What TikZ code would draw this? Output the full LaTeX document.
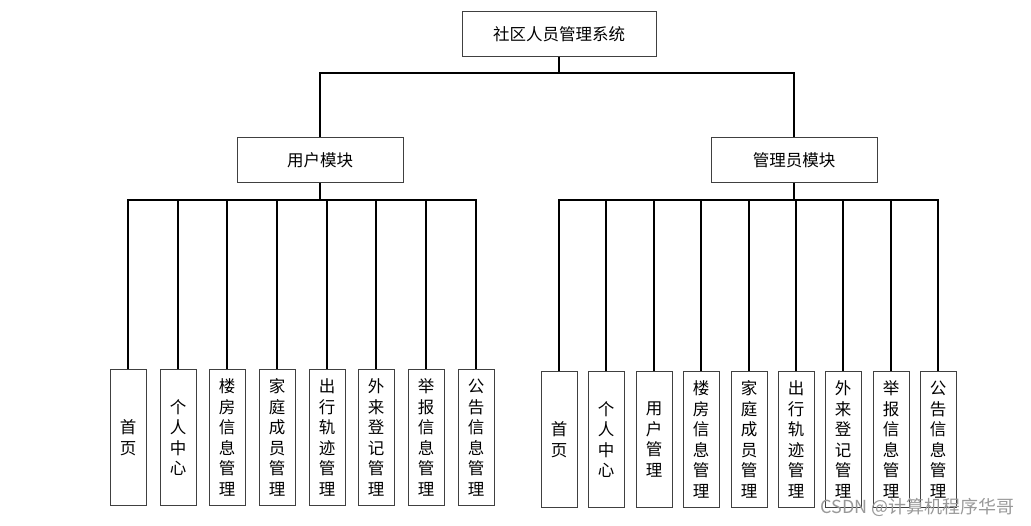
\documentclass[tikz,border=0pt]{standalone}
\usepackage{fontspec}
\newfontfamily\cjk{Noto Sans CJK SC}

\begin{document}
\begin{tikzpicture}[x=1pt, y=-1pt,
  box/.style={draw=black!75, line width=1pt, fill=white, inner sep=0pt,
    font=\cjk\fontsize{16.5}{20.5}\selectfont},
  topbox/.style={box, minimum width=194pt, minimum height=45pt},
  modbox/.style={box, minimum width=166pt, minimum height=45pt},
  leafbox/.style={box, minimum width=36pt, minimum height=135pt, align=center},
  link/.style={line width=1.2pt}]

  % canvas
  \useasboundingbox (0,0) rectangle (1031,526);

  % --- Top level ---
  \node[topbox] (root) at (559,34.5) {社区人员管理系统};

  % --- Module level ---
  \node[modbox] (user)  at (320,160) {用户模块};
  \node[modbox] (admin) at (794,160) {管理员模块};

  \coordinate (rootbar) at (559,73);
  \draw[link] (root.south) -- (rootbar) -| (user.north);
  \draw[link] (rootbar) -| (admin.north);

  % --- User module leaves ---
  \coordinate (userbar) at (320,200);
  \draw[link] (user.south) -- (userbar);
  \foreach \x/\t [count=\i] in {128/首\\页, 178/个\\人\\中\\心,
      227/楼\\房\\信\\息\\管\\理, 277/家\\庭\\成\\员\\管\\理,
      327/出\\行\\轨\\迹\\管\\理, 376/外\\来\\登\\记\\管\\理,
      426/举\\报\\信\\息\\管\\理, 476/公\\告\\信\\息\\管\\理} {
    \node[leafbox] (u\i) at (\x,437.5) {\t};
    \draw[link] (userbar) -| (u\i.north);
  }

  % --- Admin module leaves ---
  \coordinate (adminbar) at (794,200);
  \draw[link] (admin.south) -- (adminbar);
  \foreach \x/\t [count=\i] in {559/首\\页, 606/个\\人\\中\\心,
      654/用\\户\\管\\理, 701/楼\\房\\信\\息\\管\\理,
      749/家\\庭\\成\\员\\管\\理, 796/出\\行\\轨\\迹\\管\\理,
      843/外\\来\\登\\记\\管\\理, 891/举\\报\\信\\息\\管\\理,
      938/公\\告\\信\\息\\管\\理} {
    \node[leafbox] (a\i) at (\x,439.5) {\t};
    \draw[link] (adminbar) -| (a\i.north);
  }

  % watermark
  \node[font=\cjk\fontsize{18}{20}\selectfont, text=black!40, anchor=east,
    inner sep=0pt] (mark) at (1015,507) {CSDN @计算机程序华哥};

\end{tikzpicture}
\end{document}
